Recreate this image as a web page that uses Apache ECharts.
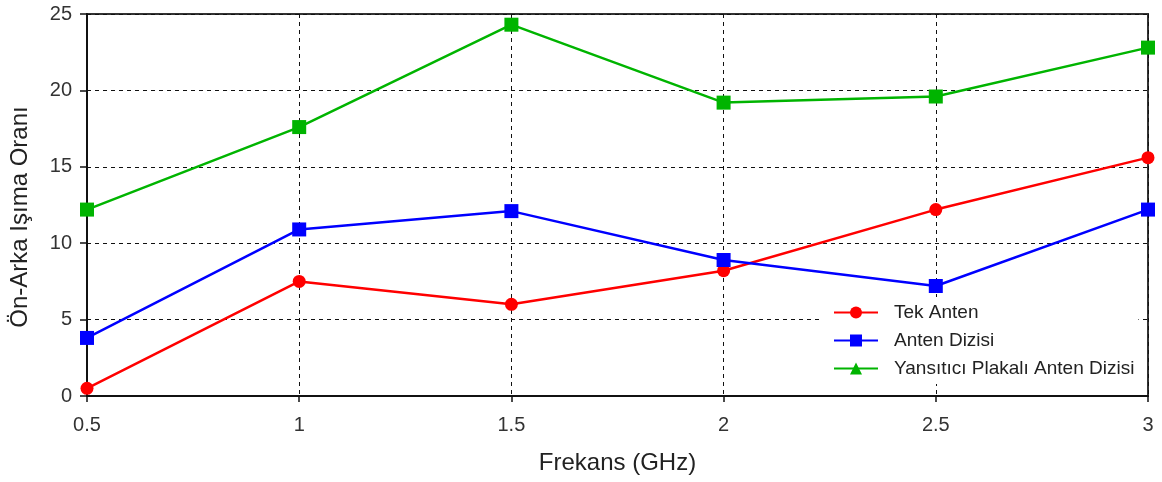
<!DOCTYPE html>
<html>
<head>
<meta charset="utf-8">
<script src="https://cdn.jsdelivr.net/npm/echarts@6/dist/echarts.min.js"></script>
<style>html,body{margin:0;padding:0;background:#fff;}#c{width:1162px;height:482px;}</style>
</head>
<body>
<div id="c"></div>
<script>
const xValues = [0.5, 1, 1.5, 2, 2.5, 3];
const tekAnten = [0.5, 7.5, 6.0, 8.2, 12.2, 15.6];
const antenDizisi = [3.8, 10.9, 12.1, 8.9, 7.2, 12.2];
const yansitici = [12.2, 17.6, 24.3, 19.2, 19.6, 22.8];
const seriesNames = ['Tek Anten', 'Anten Dizisi', 'Yansıtıcı Plakalı Anten Dizisi'];
const xTitle = 'Frekans (GHz)';
const yTitle = 'Ön-Arka Işıma Oranı';

const pairs = arr => xValues.map((x, i) => [x, arr[i]]);
const font = 'Liberation Sans';

const chart = echarts.init(document.getElementById('c'), null, {renderer: 'canvas'});
chart.setOption({
  animation: false,
  backgroundColor: '#fff',
  grid: {left: 85, right: 14, top: 14, bottom: 86, show: true, borderColor: '#333', borderWidth: 2},
  legend: {
    left: 822, top: 297,
    orient: 'vertical',
    backgroundColor: '#fff',
    padding: [6, 4, 6, 11],
    itemGap: 9,
    itemWidth: 44, itemHeight: 15,
    textStyle: {fontFamily: font, fontSize: 19, color: '#222', padding: [0, 0, 0, 11]},
    data: seriesNames
  },
  xAxis: {
    type: 'value', min: 0.5, max: 3, interval: 0.5,
    name: xTitle, nameLocation: 'middle', nameGap: 55,
    nameTextStyle: {fontFamily: font, fontSize: 24, color: '#222'},
    axisLine: {lineStyle: {color: '#111', width: 2}},
    axisTick: {show: true, length: 6, lineStyle: {color: '#111', width: 1.5}},
    axisLabel: {fontFamily: font, fontSize: 20, color: '#333', margin: 19},
    splitLine: {show: true, lineStyle: {color: '#111', type: [4, 4], width: 1}}
  },
  yAxis: {
    type: 'value', min: 0, max: 25, interval: 5,
    name: yTitle, nameLocation: 'middle', nameGap: 55, nameRotate: 90,
    nameTextStyle: {fontFamily: font, fontSize: 24, color: '#222', padding: [0, 24, 0, 0]},
    axisLine: {show: true, lineStyle: {color: '#111', width: 2}},
    axisTick: {show: true, length: 7, lineStyle: {color: '#111', width: 1.5}},
    axisLabel: {fontFamily: font, fontSize: 20, color: '#333', margin: 15},
    splitLine: {show: true, lineStyle: {color: '#111', type: [4, 4], width: 1}}
  },
  series: [
    {name: seriesNames[0], type: 'line', data: pairs(tekAnten), symbol: 'circle', symbolSize: 13,
      itemStyle: {color: '#ff0000'}, lineStyle: {color: '#ff0000', width: 2.5}, z: 3},
    {name: seriesNames[1], type: 'line', data: pairs(antenDizisi), symbol: 'rect', symbolSize: 14,
      itemStyle: {color: '#0000ff'}, lineStyle: {color: '#0000ff', width: 2.5}, z: 3},
    {name: seriesNames[2], type: 'line', data: [], symbol: 'triangle', symbolSize: 13,
      itemStyle: {color: '#00b400'}, lineStyle: {color: '#00b400', width: 2.5}},
    {name: seriesNames[2], type: 'line', data: pairs(yansitici), symbol: 'rect', symbolSize: 14,
      itemStyle: {color: '#00b400'}, lineStyle: {color: '#00b400', width: 2.5}, z: 3}
  ]
});
</script>
</body>
</html>
